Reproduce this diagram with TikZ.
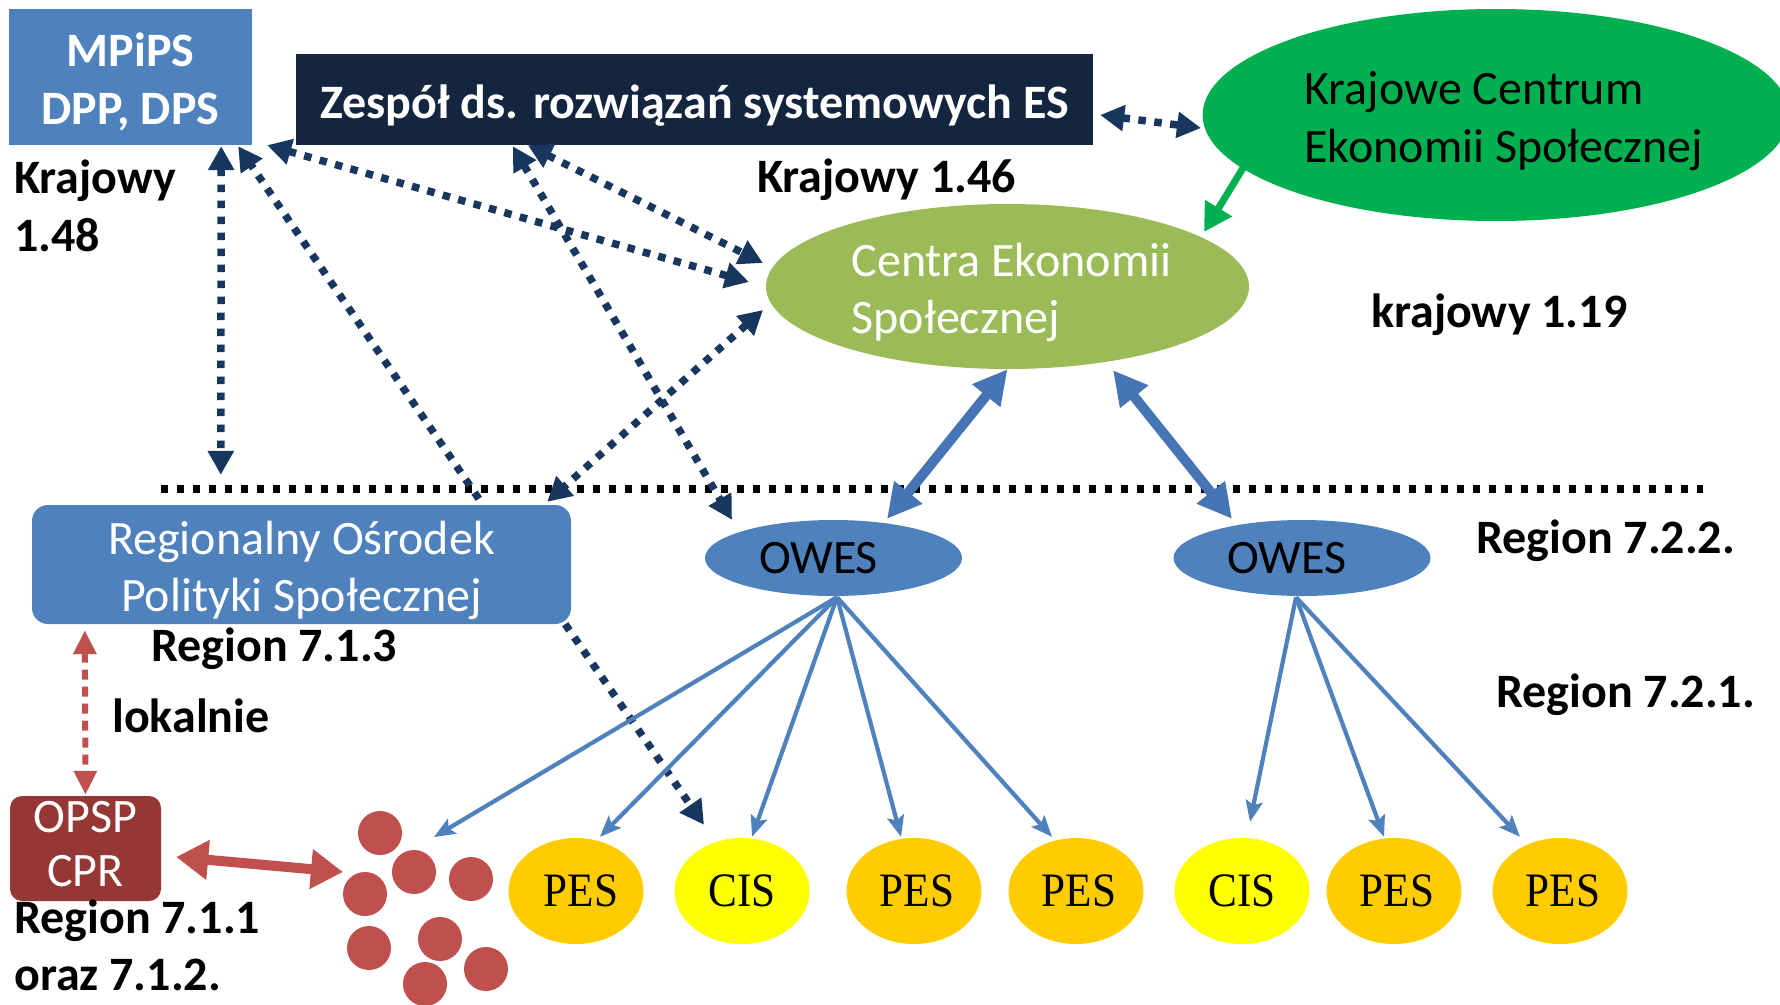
\documentclass[tikz,border=0pt]{standalone}
\usepackage{fontspec}
\setmainfont{Carlito}
\newfontfamily\pesfont[FakeStretch=0.9]{Liberation Serif}
\usetikzlibrary{arrows.meta,shapes.geometric,calc}
\definecolor{mpblue}{HTML}{4F81BD}
\definecolor{navybox}{HTML}{13253F}
\definecolor{navyarrow}{HTML}{17375E}
\definecolor{kgreen}{HTML}{00B050}
\definecolor{cgreen}{HTML}{9BBB59}
\definecolor{opspred}{HTML}{953735}
\definecolor{dotred}{HTML}{C0504D}
\definecolor{pesgold}{HTML}{FFCC00}
\definecolor{cisyellow}{HTML}{FFFF00}
\definecolor{thickblue}{HTML}{4575B4}
\newcommand\tstr{\rule{0pt}{47.25pt}}
\newcommand\bstr{\rule[-10.25pt]{0pt}{10.25pt}}
\begin{document}
\begin{tikzpicture}[x=1pt,y=-1pt,
  txt/.style={inner sep=0pt, font=\fontsize{48}{57.5}\selectfont},
  btxt/.style={inner sep=0pt, font=\bfseries\fontsize{48}{57.5}\selectfont},
  boxnode/.style={inner sep=0pt, font=\fontsize{48}{57.5}\selectfont, align=center},
  pesnode/.style={ellipse, inner sep=0pt, minimum width=135, minimum height=106, font=\pesfont\fontsize{48}{57.5}\selectfont},
  dotnode/.style={circle, fill=dotred, inner sep=0pt, minimum size=44},
  navyarr/.style={draw=navyarrow, line width=7.5pt, dash pattern=on 7.5pt off 8.5pt},
  navytip/.tip={Triangle[length=24pt,width=25pt]},
  thinarr/.style={draw=mpblue, line width=4.2pt, -{Stealth[length=21pt,width=17pt,inset=4pt]}},
  thickarr/.style={draw=thickblue, line width=10pt, {Triangle[length=34pt,width=34pt]}-{Triangle[length=34pt,width=34pt]}},
]
\fill[white] (0,0) rectangle (1780,1004);
\useasboundingbox (0,0) rectangle (1780,1004);

% shapes
\node[boxnode, fill=mpblue, text=white, font=\bfseries\fontsize{48}{57.5}\selectfont, minimum width=243, minimum height=136] (mpips) at (130.5,77) {\tstr MPiPS\\\bstr DPP, DPS};
\node[boxnode, fill=navybox, text=white, font=\bfseries\fontsize{48}{57.5}\selectfont, minimum width=797, minimum height=91] (zespol) at (694.5,99.5) {\rule{0pt}{46pt}Zespół ds. rozwiązań systemowych ES};
\node[ellipse, fill=kgreen, inner sep=0pt, minimum width=582, minimum height=212, align=left, txt] (krajowe) at (1496,115) {\tstr\hspace*{16pt}Krajowe Centrum\\\bstr\hspace*{16pt}Ekonomii Społecznej};
\node[ellipse, fill=cgreen, inner sep=0pt, minimum width=483, minimum height=165, align=left, text=white, txt] (centra) at (1007.5,286.5) {\tstr\hspace*{8pt}Centra Ekonomii\\\bstr\hspace*{8pt}Społecznej};
\node[boxnode, rounded corners=16pt, fill=mpblue, text=white, minimum width=539, minimum height=119] (regional) at (301.5,564.5) {\tstr Regionalny Ośrodek\\\bstr Polityki Społecznej};
\node[ellipse, fill=mpblue, inner sep=0pt, minimum width=257, minimum height=76, txt] (owes1) at (833.5,558) {\hspace*{-30pt}OWES};
\node[ellipse, fill=mpblue, inner sep=0pt, minimum width=257, minimum height=76, txt] (owes2) at (1302,558) {\hspace*{-30pt}OWES};
\node[boxnode, rounded corners=12pt, fill=opspred, text=white, minimum width=151, minimum height=105, font=\fontsize{48}{54}\selectfont] (opsp) at (85.5,848.5) {OPSP\\\rule[-10pt]{0pt}{10pt}CPR};

\node[pesnode, fill=pesgold] (pes1) at (576,891) {\hspace*{10pt}PES};
\node[pesnode, fill=cisyellow] (cis1) at (742,891) {CIS};
\node[pesnode, fill=pesgold] (pes2) at (914,891) {\hspace*{6pt}PES};
\node[pesnode, fill=pesgold] (pes3) at (1076,891) {\hspace*{6pt}PES};
\node[pesnode, fill=cisyellow] (cis2) at (1242,891) {CIS};
\node[pesnode, fill=pesgold] (pes4) at (1394,891) {\hspace*{6pt}PES};
\node[pesnode, fill=pesgold] (pes5) at (1560,891) {\hspace*{6pt}PES};

\node[dotnode] (dot1) at (380,833) {};
\node[dotnode] (dot2) at (414,872) {};
\node[dotnode] (dot3) at (471,879) {};
\node[dotnode] (dot4) at (365,894) {};
\node[dotnode] (dot5) at (440,939) {};
\node[dotnode] (dot6) at (369,948) {};
\node[dotnode] (dot7) at (486,969) {};
\node[dotnode] (dot8) at (425,984) {};

% labels
\node[btxt, anchor=west, align=left] (k148) at (14,211) {\strut Krajowy\\\strut 1.48};
\node[btxt, anchor=base west] (k146) at (757,192) {Krajowy 1.46};
\node[btxt, anchor=base west] (k119) at (1371,327) {krajowy 1.19};
\node[btxt, anchor=base west] (r713) at (151,661) {Region 7.1.3};
\node[btxt, anchor=base west] (lokal) at (112,732) {lokalnie};
\node[btxt, anchor=west, align=left] (r711) at (14,945) {\rule{0pt}{34pt}Region 7.1.1\\oraz 7.1.2.};
\node[btxt, anchor=base west] (r722) at (1476,553) {Region 7.2.2.};
\node[btxt, anchor=base west] (r721) at (1496,707) {Region 7.2.1.};

% divider
\coordinate (divL) at (161,489);
\coordinate (divR) at (1703,489);
\draw[black, line width=8pt, dash pattern=on 7pt off 9pt] (divL) -- (divR);

% navy dotted arrows
\draw[navyarr, navytip-navytip] ($(mpips.south east)+(-31,1)$) -- ($(regional.north west)+(189,-30)$);
\draw[navyarr, -navytip] ($(regional.north west)+(447,-6)$) -- ($(mpips.south east)+(-14,1)$);
\draw[navyarr, navytip-navytip] ($(mpips.south east)+(15,0)$) -- ($(centra.center)+(-258.5,-4.5)$);
\draw[navyarr, navytip-navytip] ($(zespol.south west)+(232,0)$) -- ($(centra.center)+(-244.5,-23.5)$);
\draw[navyarr, navytip-navytip] ($(zespol.south west)+(217,1)$) -- ($(owes1.north)+(-101.5,0)$);
\draw[navyarr, navytip-navytip] ($(centra.center)+(-244.5,23.5)$) -- ($(regional.north east)+(-24,-3)$);
\draw[navyarr, navytip-navytip] ($(zespol.east)+(7,15.5)$) -- ($(krajowe.center)+(-295,13)$);
\draw[navyarr, -navytip] ($(regional.south east)+(-6,0)$) -- ($(cis1.north)+(-38,-13)$);

% red arrows
\draw[draw=dotred, line width=6pt, dash pattern=on 10pt off 7pt, {Triangle[length=24pt,width=22pt]}-{Triangle[length=24pt,width=22pt]}] ($(regional.south west)+(53,6)$) -- ($(opsp.north)+(0,-1)$);
\draw[draw=dotred, line width=10pt, {Triangle[length=32pt,width=38pt]}-{Triangle[length=32pt,width=38pt]}] ($(opsp.east)+(15,8.5)$) -- ($(dot4.center)+(-22,-22)$);

% green arrow
\draw[draw=kgreen, line width=7pt, -{Triangle[length=28pt,width=30pt]}] ($(krajowe.center)+(-253,53)$) -- ($(centra.center)+(196.5,-54.5)$);

% thick blue arrows
\draw[thickarr] (centra.south) -- ($(owes1.north)+(53.5,-1)$);
\draw[thickarr] ($(centra.south)+(105.5,1)$) -- ($(owes2.north)+(-70,-1)$);

% thin blue arrows
\draw[thinarr] ($(owes1.south)+(3.5,1)$) -- ($(dot2.center)+(20,-35)$);
\draw[thinarr] ($(owes1.south)+(3.5,1)$) -- ($(pes1.north)+(24,-1)$);
\draw[thinarr] ($(owes1.south)+(3.5,1)$) -- ($(cis1.north)+(10,-1)$);
\draw[thinarr] ($(owes1.south)+(3.5,1)$) -- ($(pes2.north)+(-13,-1)$);
\draw[thinarr] ($(owes1.south)+(3.5,1)$) -- ($(pes3.north)+(-24,-1)$);
\draw[thinarr] ($(owes2.south)+(-6,1)$) -- ($(cis2.north)+(8,-16)$);
\draw[thinarr] ($(owes2.south)+(-6,1)$) -- ($(pes4.north)+(-10,-1)$);
\draw[thinarr] ($(owes2.south)+(-6,1)$) -- ($(pes5.north)+(-40,-1)$);
\end{tikzpicture}
\end{document}
